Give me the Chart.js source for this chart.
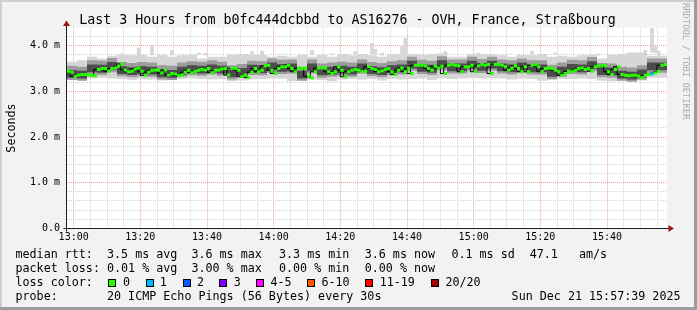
<!DOCTYPE html>
<html><head><meta charset="utf-8">
<script src="https://cdn.jsdelivr.net/npm/chart.js@4/dist/chart.umd.min.js"></script>
<style>html,body{margin:0;padding:0;background:#f2f2f2}canvas{display:block}</style>
</head><body>
<canvas id="c" width="697" height="310"></canvas>
<script>
// time axis: minutes relative to 13:00
const startMinute = -2;
const endMinute = 178;

// median RTT (ms), one value per minute from 12:58 to 15:57
const medianRtt = [
 3.44,3.42,3.33,3.36,3.37,3.37,3.36,3.35,3.34,3.48,3.50,3.50,
 3.44,3.50,3.51,3.55,3.60,3.47,3.43,3.44,3.49,3.51,
 3.44,3.35,3.42,3.46,3.47,3.46,3.40,3.47,3.36,3.39,
 3.38,3.34,3.36,3.42,3.46,3.41,3.44,3.46,3.48,3.47,
 3.50,3.41,3.46,3.47,3.49,3.50,3.36,3.51,3.50,3.46,
 3.33,3.36,3.30,3.42,3.50,3.43,3.46,3.56,3.57,3.46,
 3.39,3.50,3.54,3.54,3.57,3.50,3.43,3.51,3.50,3.51,
 3.33,3.30,3.43,3.51,3.51,3.51,3.43,3.39,3.43,3.54,
 3.46,3.32,3.43,3.46,3.48,3.46,3.43,3.44,3.54,3.50,
 3.48,3.43,3.45,3.48,3.50,3.43,3.37,3.46,3.51,3.43,
 3.50,3.39,3.57,3.57,3.57,3.56,3.50,3.46,3.55,3.51,
 3.55,3.39,3.57,3.59,3.57,3.56,3.43,3.54,3.54,3.57,
 3.43,3.56,3.59,3.57,3.59,3.39,3.59,3.59,3.57,3.54,
 3.46,3.51,3.56,3.50,3.43,3.54,3.43,3.57,3.59,3.54,
 3.43,3.50,3.51,3.50,3.46,3.43,3.35,3.39,3.44,3.43,
 3.46,3.50,3.51,3.48,3.50,3.44,3.54,3.56,3.57,3.56,
 3.43,3.37,3.48,3.54,3.37,3.35,3.34,3.35,3.35,3.33,
 3.30,3.35,3.37,3.38,3.40,3.44,3.57,3.59
];
const lossMinutes = [173];
const lossCounts = [1];

// smoke bands (ms), one value per 3-minute slot
const bandStep = 3;
const smokeMin = [
 3.28,3.25,3.26,3.28,3.30,3.28,3.27,3.25,3.27,3.26,
 3.24,3.25,3.27,3.28,3.27,3.26,3.27,3.22,3.24,3.27,
 3.27,3.28,3.28,3.22,3.24,3.26,3.25,3.22,3.26,3.27,
 3.26,3.27,3.24,3.27,3.26,3.27,3.28,3.25,3.28,3.27,
 3.28,3.29,3.28,3.29,3.28,3.26,3.28,3.27,3.23,3.25,
 3.27,3.27,3.28,3.27,3.23,3.22,3.23,3.22,3.24,3.30
];
const smokeMax = [
 3.72,3.65,3.68,3.76,3.72,3.78,3.80,3.79,3.80,3.76,
 3.80,3.76,3.79,3.80,3.72,3.76,3.76,3.80,3.82,3.80,
 3.80,3.76,3.78,3.76,3.80,3.76,3.80,3.76,3.82,3.79,
 3.82,3.79,3.76,3.82,3.80,3.81,3.80,3.82,3.83,3.76,
 3.76,3.82,3.82,3.81,3.79,3.76,3.80,3.79,3.82,3.76,
 3.78,3.76,3.79,3.80,3.72,3.80,3.82,3.85,3.85,3.78
];
const smokeLo = [
 3.28,3.25,3.23,3.37,3.36,3.42,3.33,3.31,3.33,3.32,
 3.26,3.25,3.32,3.35,3.34,3.37,3.34,3.26,3.29,3.36,
 3.35,3.41,3.38,3.39,3.23,3.39,3.30,3.32,3.34,3.32,
 3.39,3.33,3.31,3.35,3.37,3.45,3.38,3.36,3.46,3.39,
 3.39,3.45,3.40,3.45,3.39,3.37,3.41,3.37,3.37,3.27,
 3.32,3.38,3.37,3.44,3.31,3.30,3.23,3.21,3.26,3.41
];
const smokeHi = [
 3.59,3.56,3.54,3.68,3.67,3.73,3.64,3.62,3.64,3.63,
 3.57,3.56,3.63,3.66,3.65,3.68,3.65,3.57,3.60,3.67,
 3.66,3.72,3.69,3.70,3.54,3.70,3.61,3.63,3.65,3.63,
 3.70,3.64,3.62,3.66,3.68,3.76,3.69,3.67,3.77,3.70,
 3.70,3.76,3.71,3.76,3.70,3.68,3.72,3.68,3.68,3.58,
 3.63,3.69,3.68,3.75,3.62,3.61,3.54,3.52,3.57,3.72
];
const coreLo = [
 3.33,3.30,3.28,3.42,3.41,3.47,3.38,3.36,3.38,3.37,
 3.31,3.30,3.37,3.40,3.39,3.42,3.39,3.31,3.34,3.41,
 3.40,3.46,3.43,3.44,3.28,3.44,3.35,3.37,3.39,3.37,
 3.44,3.38,3.36,3.40,3.42,3.50,3.43,3.41,3.51,3.44,
 3.44,3.50,3.45,3.50,3.44,3.42,3.46,3.42,3.42,3.32,
 3.37,3.43,3.42,3.49,3.36,3.35,3.28,3.26,3.31,3.46
];
const coreHi = [
 3.50,3.47,3.45,3.59,3.58,3.64,3.55,3.53,3.55,3.54,
 3.48,3.47,3.54,3.57,3.56,3.59,3.56,3.48,3.51,3.58,
 3.57,3.63,3.60,3.61,3.45,3.61,3.52,3.54,3.56,3.54,
 3.61,3.55,3.53,3.57,3.59,3.67,3.60,3.58,3.68,3.61,
 3.61,3.67,3.62,3.67,3.61,3.59,3.63,3.59,3.59,3.49,
 3.54,3.60,3.59,3.66,3.53,3.52,3.45,3.43,3.48,3.63
];
// isolated high pings (ms)
const spikeMinutes = [14,19,23,29,37,39,53,56, 71,77,84,89,90,92,98,99,111, 121,137,144,157,171,173,174,175];
const spikeTops    = [3.82,3.95,4.01,3.90,3.84,3.83,3.87,3.88, 3.90,3.82,3.87,4.05,3.92,3.84,3.98,4.16,3.87, 3.84,3.88,3.84,3.82,3.90,4.38,3.98,3.88];

const lossColorLabels = ['0','1','2','3','4-5','6-10','11-19','20/20'];
const lossColors = ['#26ff00','#00b8ff','#0059ff','#7e00ff','#ff00ff','#ff5500','#ff0000','#a10000'];
const titleText = 'Last 3 Hours from b0fc444dcbbd to AS16276 - OVH, France, Straßbourg';
const rttStats = ['3.5 ms avg','3.6 ms max','3.3 ms min','3.6 ms now','0.1 ms sd','47.1','am/s'];
const lossStats = ['0.01 % avg','3.00 % max','0.00 % min','0.00 % now'];
const probeText = '20 ICMP Echo Pings (56 Bytes) every 30s';
const dateText = 'Sun Dec 21 15:57:39 2025';

// ---- build library inputs ----
const medianTimes = medianRtt.map((_, i) => startMinute + i);
const bandTimes = smokeMin.map((_, i) => startMinute + i * bandStep);
function stepSeries(times, vals) {
  const d = times.map((t, i) => ({x: t, y: vals[i]}));
  d.push({x: endMinute, y: vals[vals.length - 1]});
  return d;
}
function lossBin(n) {
  if (n <= 3) return n;
  if (n <= 5) return 4;
  if (n <= 10) return 5;
  if (n <= 19) return 6;
  return 7;
}
const pointColors = medianTimes.map(t => {
  const j = lossMinutes.indexOf(t);
  return lossColors[j < 0 ? 0 : lossBin(lossCounts[j])];
});
function band(vals, fill, color, order) {
  return {type: 'line', data: stepSeries(bandTimes, vals), stepped: 'after', borderWidth: 0,
    borderColor: 'rgba(0,0,0,0)', pointRadius: 0, fill: fill, backgroundColor: color, order: order};
}
const datasets = [
  band(smokeMin, false, 'rgba(0,0,0,0)', 20),
  band(smokeMax, '-1', '#d6d6d6', 9),
  band(smokeLo, false, 'rgba(0,0,0,0)', 20),
  band(smokeHi, '-1', '#9c9c9c', 8),
  band(coreLo, false, 'rgba(0,0,0,0)', 20),
  band(coreHi, '-1', '#4c4c4c', 7),
  {type: 'bar', data: spikeMinutes.map((t, i) => ({x: t + 0.5, y: [smokeMax[Math.floor((t - startMinute) / bandStep)], spikeTops[i]]})),
   backgroundColor: '#d6d6d6', barThickness: 3, grouped: false, order: 10},
  {type: 'line', data: stepSeries(medianTimes, medianRtt), stepped: 'after', borderColor: '#000', borderWidth: 1,
   pointRadius: 0, fill: false, order: 2},
  {type: 'line', data: medianRtt.map((v, i) => ({x: medianTimes[i] + 0.5, y: v})), showLine: false,
   pointStyle: 'line', pointRadius: 1.7, pointBorderWidth: 3, pointBorderColor: pointColors, pointBackgroundColor: pointColors, order: 1}
];

const MONO = "'DejaVu Sans Mono', monospace";
const MAJOR = '#f2a0a0', MINOR = '#d2d2d2';

const decor = {
  id: 'decor',
  beforeDraw(chart) {
    const {ctx, chartArea: a} = chart;
    ctx.save();
    ctx.fillStyle = '#f2f2f2'; ctx.fillRect(0, 0, 697, 310);
    ctx.fillStyle = '#cfcfcf'; ctx.fillRect(0, 0, 697, 2); ctx.fillRect(0, 0, 2, 310);
    ctx.fillStyle = '#9c9c9c'; ctx.fillRect(0, 307, 697, 3); ctx.fillRect(694, 0, 3, 310);
    ctx.fillStyle = '#ffffff'; ctx.fillRect(a.left, a.top, a.right - a.left, a.bottom - a.top);
    ctx.restore();
  },
  afterDraw(chart) {
    const {ctx, chartArea: a} = chart;
    ctx.save();
    // axes
    ctx.strokeStyle = '#1e1e1e'; ctx.lineWidth = 1;
    const ax = Math.floor(a.left) - 0.5, ay = Math.floor(a.bottom) + 0.5;
    ctx.beginPath(); ctx.moveTo(ax, ay + 3); ctx.lineTo(ax, a.top - 4); ctx.stroke();
    ctx.beginPath(); ctx.moveTo(ax - 3, ay); ctx.lineTo(a.right + 3, ay); ctx.stroke();
    ctx.fillStyle = '#9b1515';
    ctx.beginPath(); ctx.moveTo(ax, a.top - 7); ctx.lineTo(ax - 3.5, a.top - 1.5); ctx.lineTo(ax + 3.5, a.top - 1.5); ctx.closePath(); ctx.fill();
    ctx.beginPath(); ctx.moveTo(a.right + 7, ay); ctx.lineTo(a.right + 1.5, ay - 3.5); ctx.lineTo(a.right + 1.5, ay + 3.5); ctx.closePath(); ctx.fill();
    // title
    ctx.fillStyle = '#000';
    ctx.font = '13.3px ' + MONO; ctx.textAlign = 'center'; ctx.textBaseline = 'alphabetic';
    ctx.fillText(titleText, 347.5, 24);
    // y title
    ctx.font = '11.7px ' + MONO;
    ctx.save(); ctx.translate(15, 128); ctx.rotate(-Math.PI / 2); ctx.fillText('Seconds', 0, 0); ctx.restore();
    // watermark
    ctx.save(); ctx.fillStyle = '#ababab'; ctx.font = '8.8px ' + MONO; ctx.textAlign = 'left';
    ctx.translate(683, 3); ctx.rotate(Math.PI / 2); ctx.fillText('RRDTOOL / TOBI OETIKER', 0, 0); ctx.restore();
    // legend
    ctx.textAlign = 'left'; ctx.font = '11.7px ' + MONO; ctx.fillStyle = '#000';
    const rows = [258.3, 272.3, 286.3, 300.3];
    const rttX = [107, 191.4, 279, 364.7, 451.4, 529.7, 579];
    ctx.fillText('median rtt:', 15.5, rows[0]);
    rttStats.forEach((s, i) => ctx.fillText(s, rttX[i], rows[0]));
    ctx.fillText('packet loss:', 15.5, rows[1]);
    lossStats.forEach((s, i) => ctx.fillText(s, rttX[i], rows[1]));
    ctx.fillText('loss color:', 15.5, rows[2]);
    const boxX = [108, 145.5, 182.5, 219, 256, 307, 365, 430.5];
    const labX = [123, 159.7, 197, 233.7, 270.4, 321.4, 379.7, 445.4];
    lossColorLabels.forEach((s, i) => {
      ctx.fillStyle = lossColors[i];
      ctx.fillRect(Math.round(boxX[i]), 279, 8, 8);
      ctx.strokeStyle = '#000'; ctx.strokeRect(Math.round(boxX[i]) + 0.5, 279.5, 7, 7);
      ctx.fillStyle = '#000';
      ctx.fillText(s, labX[i], rows[2]);
    });
    ctx.fillText('probe:', 15.5, rows[3]);
    ctx.fillText(probeText, 107, rows[3]);
    ctx.textAlign = 'right';
    ctx.fillText(dateText, 680.5, rows[3]);
    ctx.restore();
  }
};

new Chart(document.getElementById('c'), {
  type: 'line',
  data: {datasets: datasets},
  options: {
    responsive: false, animation: false, devicePixelRatio: 1, events: [],
    layout: {padding: {left: 0, right: 30, top: 27.4, bottom: 61.6}},
    plugins: {legend: {display: false}, title: {display: false}, tooltip: {enabled: false}},
    scales: {
      x: {
        type: 'linear', min: startMinute, max: endMinute, offset: false,
        afterBuildTicks(scale) { const t = []; for (let m = 0; m < endMinute; m += 5) t.push({value: m}); scale.ticks = t; },
        afterFit(scale) { scale.height = 20; },
        grid: {offset: false, drawTicks: false, lineWidth: 1, color: c => (c.tick && c.tick.value % 20 === 0) ? MAJOR : MINOR},
        border: {display: false, dash: [1, 1]},
        ticks: {autoSkip: false, maxRotation: 0, padding: 3, color: '#000', font: {family: MONO, size: 10},
          callback: v => v % 20 === 0 ? (13 + Math.floor(v / 60)) + ':' + String(v % 60).padStart(2, '0') : ''}
      },
      y: {
        type: 'linear', min: 0, max: 4.4,
        afterBuildTicks(scale) { const t = []; for (let i = 0; i <= 21; i++) t.push({value: i / 5}); scale.ticks = t; },
        afterFit(scale) { scale.width = 67; },
        grid: {offset: false, drawTicks: false, lineWidth: 1, color: c => (c.tick && Number.isInteger(c.tick.value)) ? MAJOR : MINOR},
        border: {display: false, dash: [1, 1]},
        ticks: {autoSkip: false, padding: 7, color: '#000', font: {family: MONO, size: 10},
          callback: v => Number.isInteger(v) ? (v === 0 ? '0.0' : v.toFixed(1) + ' m') : ''}
      }
    }
  },
  plugins: [decor]
});
</script>
</body></html>
